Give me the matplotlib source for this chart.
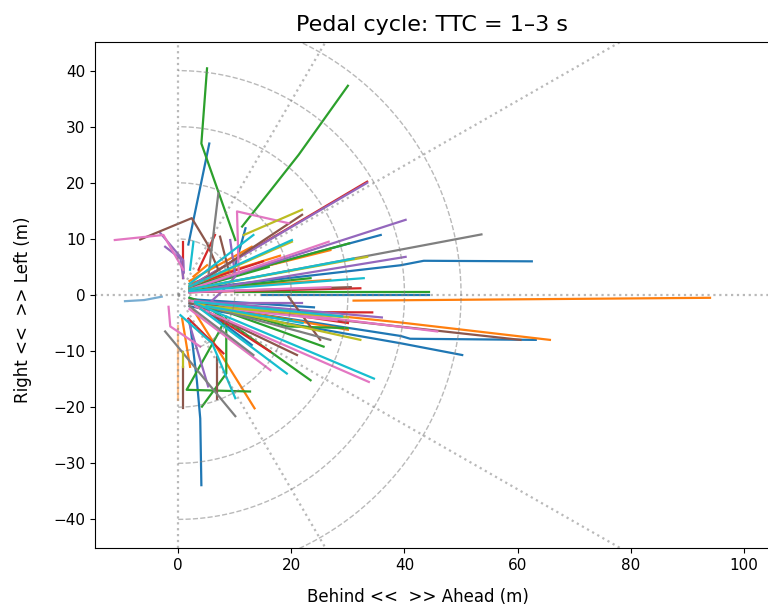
import numpy as np
import matplotlib
matplotlib.use("Agg")
import matplotlib.pyplot as plt

# trajectories (x ahead, y left) in metres, grouped by line colour
blue_tracks = [
    [(1.8, 9.0), (5.5, 27.0)],
    [(9.8, 4.2), (11.9, 11.9)],
    [(2.0, 1.5), (35.8, 10.7)],
    [(2.0, 1.0), (39.3, 5.3), (43.4, 6.1), (62.5, 6.0)],
    [(14.8, 0.0), (44.3, 0.0)],
    [(2.0, -0.5), (13.0, -8.9)],
    [(2.0, -1.5), (39.3, -7.3), (41.0, -7.8), (63.2, -8.0)],
    [(2.0, -2.0), (39.3, -8.6), (50.2, -10.7)],
    [(2.1, -5.0), (3.3, -15.2), (3.9, -22.0), (4.1, -33.9)],
    [(3.0, -0.8), (24.0, -2.2)],
]
faint_blue_tracks = [
    [(-9.4, -1.1), (-6.0, -0.9), (-2.9, -0.3)],
]
orange_tracks = [
    [(31.0, -1.0), (94.0, -0.5)],
    [(2.0, -1.0), (39.3, -4.9), (65.7, -8.0)],
    [(2.7, -2.7), (13.5, -20.2)],
    [(0.7, -4.2), (2.1, -12.8)],
    [(3.0, 2.0), (26.9, 8.0)],
    [(2.0, 1.0), (26.9, 2.7)],
    [(2.0, 2.5), (13.0, 8.6)],
    [(2.7, 3.3), (5.1, 5.3)],
    [(3.0, -1.5), (30.0, -6.2)],
    [(2.0, 2.0), (18.0, 7.0)],
]
faint_orange_tracks = [
    [(0.05, -5.6), (0.05, -18.7)],
]
green_tracks = [
    [(10.1, 9.8), (4.1, 27.0), (5.1, 40.4)],
    [(11.3, 12.2), (21.3, 25.0), (30.0, 37.3)],
    [(10.0, 0.6), (44.3, 0.6)],
    [(2.0, 1.5), (30.2, 9.2)],
    [(2.0, 0.8), (23.4, 3.0)],
    [(2.0, -0.5), (19.2, -5.6), (29.9, -5.9)],
    [(3.0, -1.0), (25.7, -9.2)],
    [(5.0, -2.0), (23.4, -15.2)],
    [(12.7, -17.2), (1.5, -16.9), (7.1, -6.8), (8.5, -3.9)],
    [(8.5, -3.9), (8.5, -14.0), (4.2, -19.9)],
    [(6.0, -2.5), (20.0, -4.5)],
    [(2.0, 1.0), (16.0, 5.0)],
]
red_tracks = [
    [(2.0, 1.5), (33.4, 20.2)],
    [(0.9, 3.0), (0.9, 9.5)],
    [(3.6, 4.5), (6.5, 10.7)],
    [(2.0, 0.5), (32.2, 1.2)],
    [(10.7, -3.0), (34.3, -3.1)],
    [(1.8, -4.2), (8.0, -10.4)],
    [(3.0, -1.5), (16.3, -10.1)],
    [(3.0, -1.0), (30.0, -5.0)],
    [(3.0, 2.0), (15.0, 6.0)],
]
purple_tracks = [
    [(2.0, 1.5), (33.4, 20.0)],
    [(2.0, 1.0), (40.2, 13.4)],
    [(2.0, 0.5), (40.2, 6.8)],
    [(-3.2, 11.1), (0.9, 6.2), (1.0, 4.0)],
    [(-2.3, 8.6), (0.4, 6.5), (0.9, 3.0)],
    [(9.2, 9.8), (10.1, 3.3), (7.7, 0.6), (4.8, -2.1)],
    [(6.8, -1.5), (21.9, -1.5)],
    [(1.8, -4.5), (5.3, -16.3)],
    [(3.0, -1.0), (36.0, -4.0)],
]
brown_tracks = [
    [(-6.7, 9.9), (2.4, 13.7), (5.1, 9.2), (7.1, 4.5)],
    [(7.4, 10.4), (8.9, 4.5)],
    [(2.0, 1.0), (21.9, 14.3)],
    [(2.0, 0.5), (30.5, 1.4)],
    [(19.5, -0.3), (25.1, -8.0)],
    [(2.0, -1.5), (60.5, -8.0)],
    [(3.0, -2.0), (21.0, -10.7)],
    [(6.8, -11.0), (6.8, -18.6)],
    [(0.9, -12.8), (0.9, -20.2)],
]
pink_tracks = [
    [(-11.2, 9.8), (-2.6, 10.7), (0.9, 4.5)],
    [(10.7, 3.9), (10.4, 14.9), (19.5, 12.8)],
    [(2.0, 1.0), (26.6, 9.5)],
    [(2.0, 0.5), (26.9, 1.4)],
    [(2.0, -1.0), (45.8, -6.5)],
    [(3.0, -2.0), (33.7, -15.5)],
    [(2.0, -2.5), (16.3, -13.4)],
    [(-1.7, -2.1), (-1.4, -5.6), (3.9, -9.2)],
    [(4.0, -2.0), (28.0, -4.5)],
]
grey_tracks = [
    [(5.4, 3.9), (7.1, 18.1)],
    [(2.0, 1.0), (53.6, 10.8)],
    [(3.0, -1.5), (26.9, -8.0)],
    [(2.0, -2.0), (13.3, -10.7)],
    [(-2.3, -6.5), (10.1, -21.6)],
]
olive_tracks = [
    [(11.6, 10.7), (21.9, 15.2)],
    [(2.0, 1.5), (20.1, 9.5)],
    [(2.0, 1.0), (33.4, 6.8)],
    [(3.0, -1.5), (32.2, -8.0)],
    [(0.9, -10.1), (0.9, -12.8)],
    [(5.0, -2.0), (30.0, -4.0)],
]
cyan_tracks = [
    [(2.1, 4.5), (2.7, 9.5)],
    [(2.0, 2.0), (13.3, 10.7)],
    [(2.0, 1.5), (20.1, 9.8)],
    [(2.0, 1.0), (31.0, 6.5)],
    [(2.0, 0.7), (32.8, 3.0)],
    [(3.0, -1.5), (34.6, -14.9)],
    [(4.0, -2.5), (19.2, -14.0)],
    [(0.4, -3.6), (6.0, -8.6), (10.1, -18.4)],
    [(5.0, -2.0), (22.0, -5.0)],
    [(3.0, -1.2), (29.0, -3.8)],
]

ring_radii = [10, 20, 30, 40, 50]
ray_angles = [30, 60, -30, -60]

fig = plt.figure(figsize=(7.68, 6.13), dpi=100)
ax = fig.add_axes([95 / 768, 65 / 613, 675 / 768, 506 / 613])

groups = [
    (blue_tracks, "C0", 1.0), (faint_blue_tracks, "C0", 0.6),
    (orange_tracks, "C1", 1.0), (faint_orange_tracks, "C1", 0.5),
    (green_tracks, "C2", 1.0), (red_tracks, "C3", 1.0),
    (purple_tracks, "C4", 1.0), (brown_tracks, "C5", 1.0),
    (pink_tracks, "C6", 1.0), (grey_tracks, "C7", 1.0),
    (olive_tracks, "C8", 1.0), (cyan_tracks, "C9", 1.0),
]
for tracks, col, al in groups:
    for tr in tracks:
        xy = np.array(tr)
        ax.plot(xy[:, 0], xy[:, 1], color=col, lw=1.6, alpha=al)

# guide lines drawn on top of the tracks
guide = dict(color="grey", alpha=0.55)
ax.axhline(0, ls=":", lw=1.6, **guide)
ax.axvline(0, ls=":", lw=1.6, **guide)
for ang in ray_angles:
    a = np.deg2rad(ang)
    ax.plot([0, 200 * np.cos(a)], [0, 200 * np.sin(a)], ls=":", lw=1.6, **guide)
theta = np.linspace(-np.pi / 2, np.pi / 2, 200)
for r in ring_radii:
    ax.plot(r * np.cos(theta), r * np.sin(theta), ls="--", lw=1, **guide)

ax.set_xlim(-14.7, 104.6)
ax.set_ylim(-45.1, 45.1)
ax.set_xticks([0, 20, 40, 60, 80, 100])
ax.set_yticks([-40, -30, -20, -10, 0, 10, 20, 30, 40])
ax.tick_params(labelsize=11)
ax.set_xlabel("Behind <<  >> Ahead (m)", fontsize=12, labelpad=11)
ax.set_ylabel("Right <<  >> Left (m)", fontsize=12, labelpad=15)
ax.xaxis.label.set_x(0.478)
ax.yaxis.label.set_y(0.47)
ax.set_title("Pedal cycle: TTC = 1\u20133 s", fontsize=16, pad=8)

fig.savefig("out.png", dpi=100)
